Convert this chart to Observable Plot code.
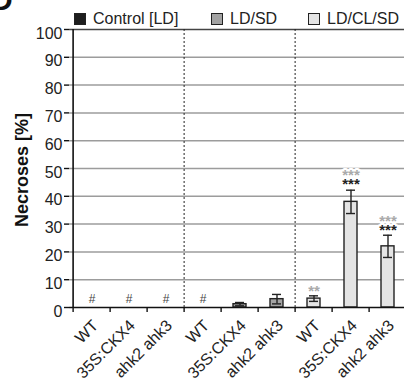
<!DOCTYPE html>
<html><head><meta charset="utf-8">
<script src="https://cdn.jsdelivr.net/npm/d3@7"></script>
<script src="https://cdn.jsdelivr.net/npm/@observablehq/plot@0.6"></script>
<style>
body{margin:0;overflow:hidden;background:#fff;font-family:"Liberation Sans",Arial,sans-serif;}
#wrap{position:relative;width:404px;height:385px;overflow:hidden;background:#fff;}
#wrap svg{position:absolute;left:0;top:0;}
.leg{position:absolute;top:12px;display:flex;align-items:center;gap:7px;font-size:16px;line-height:14px;color:#222;white-space:nowrap;}
.sw{width:10px;height:10px;border:1px solid #222;}
#ylab{position:absolute;left:22px;top:170px;transform:translate(-50%,-50%) rotate(-90deg);font-weight:bold;font-size:18px;white-space:nowrap;color:#111;}
#panel{position:absolute;left:-9px;top:-15px;font-size:30px;font-weight:bold;line-height:30px;color:#111;}
</style></head><body><div id="wrap"></div>
<script>
// ---- data ----
const groups = ["Control [LD]", "LD/SD", "LD/CL/SD"];
const genotypes = ["WT", "35S:CKX4", "ahk2 ahk3"];
const controlValues = [0, 0, 0];
const controlErrors = [0, 0, 0];
const ldsdValues = [0, 1.2, 3.0];
const ldsdErrors = [0, 0.6, 1.7];
const ldclsdValues = [3.2, 38, 22];
const ldclsdErrors = [1.0, 4.2, 4.0];
const hashControl = ["#", "#", "#"];
const hashLdsd = ["#", "", ""];
const hashLdclsd = ["", "", ""];
const starsVsControl = ["**", "***", "***"]; // grey
const starsVsLdsd = ["", "***", "***"];      // black
const yTicks = [0, 10, 20, 30, 40, 50, 60, 70, 80, 90, 100];
const gridValues = [10, 20, 30, 40, 50, 60, 70, 80, 90];

// ---- build table ----
const valueSets = [controlValues, ldsdValues, ldclsdValues];
const errorSets = [controlErrors, ldsdErrors, ldclsdErrors];
const hashSets = [hashControl, hashLdsd, hashLdclsd];
const fills = ["#1e1e1e", "#a3a3a3", "#e4e4e4"];
const rows = [];
groups.forEach((g, gi) => genotypes.forEach((t, ti) => {
  rows.push({key: gi + "|" + t, group: g, gi, genotype: t,
    value: valueSets[gi][ti], err: errorSets[gi][ti],
    lo: valueSets[gi][ti] - errorSets[gi][ti], hi: valueSets[gi][ti] + errorSets[gi][ti],
    hash: hashSets[gi][ti],
    grey: gi === 2 ? starsVsControl[ti] : "", black: gi === 2 ? starsVsLdsd[ti] : ""});
}));
const keys = rows.map(d => d.key);
const separatorKeys = [keys[3], keys[6]];
const W = 404, ML = 69, MR = -5;
const bw = (W - MR - ML) / keys.length;

const plot = Plot.plot({
  width: W, height: 385, marginLeft: ML, marginRight: MR, marginTop: 29, marginBottom: 78,
  style: {fontFamily: "Liberation Sans, Arial, sans-serif", overflow: "hidden", background: "transparent"},
  x: {type: "band", domain: keys, padding: 0, axis: null},
  y: {domain: [0, 100], axis: null},
  marks: [
    Plot.ruleY(gridValues, {stroke: "#9c9c9c", strokeWidth: 1.5}),
    Plot.ruleY([100], {stroke: "#444", strokeWidth: 1.5}),
    Plot.ruleX(separatorKeys, {x: d => d, dx: -bw / 2, stroke: "#222", strokeWidth: 1, strokeDasharray: "2,2"}),
    Plot.barY(rows.filter(d => d.value > 0), {x: "key", y: "value", fill: d => fills[d.gi],
      stroke: "#222", strokeWidth: 1.4, insetLeft: 12, insetRight: 12}),
    Plot.ruleX(rows.filter(d => d.err > 0), {x: "key", y1: "lo", y2: "hi", stroke: "#222", strokeWidth: 1.4}),
    Plot.tickY(rows.filter(d => d.err > 0), {x: "key", y: "hi", stroke: "#222", strokeWidth: 1.4, insetLeft: 14, insetRight: 14}),
    Plot.tickY(rows.filter(d => d.err > 0), {x: "key", y: "lo", stroke: "#222", strokeWidth: 1.4, insetLeft: 14, insetRight: 14}),
    Plot.text(rows.filter(d => d.hash), {x: "key", y: 0, text: "hash", dy: -8, fontSize: 12, fill: "#444"}),
    // stars: lower row (black if present, else grey)
    Plot.text(rows.filter(d => d.black), {x: "key", y: "hi", text: "black", dy: -5.5, fontSize: 15, fontWeight: "bold", fill: "#222", stroke: "white", strokeWidth: 4}),
    Plot.text(rows.filter(d => d.grey && !d.black), {x: "key", y: "hi", text: "grey", dy: -5, fontSize: 15, fontWeight: "bold", fill: "#aaa", stroke: "white", strokeWidth: 4}),
    Plot.text(rows.filter(d => d.grey && d.black), {x: "key", y: "hi", text: "grey", dy: -14.5, fontSize: 15, fontWeight: "bold", fill: "#aaa", stroke: "white", strokeWidth: 4}),
    Plot.ruleY([0], {stroke: "#111", strokeWidth: 1.6}),
    Plot.ruleX([keys[0]], {x: d => d, dx: -bw / 2, stroke: "#111", strokeWidth: 1.6}),
    // axes
    Plot.axisY({ticks: yTicks, tickSize: 5, tickFormat: () => "", label: null, stroke: "#111", strokeWidth: 1.4}),
    Plot.axisY({ticks: yTicks, tickSize: 0, tickPadding: 7, dy: 4, fontSize: 16, fill: "#222", label: null}),
    Plot.axisX({tickSize: 5, tickFormat: () => "", dx: -bw / 2, label: null, stroke: "#111", strokeWidth: 1.4}),
    Plot.text(rows, {x: "key", y: 0, text: "genotype", rotate: -45, textAnchor: "end", lineAnchor: "top", dx: -1, dy: 11, fontSize: 16, fill: "#222"})
  ]
});
const wrap = document.getElementById("wrap");
wrap.appendChild(plot);

const panel = document.createElement("div");
panel.id = "panel"; panel.textContent = "D";
wrap.appendChild(panel);

const ylab = document.createElement("div");
ylab.id = "ylab"; ylab.textContent = "Necroses [%]";
wrap.appendChild(ylab);

const legLeft = [74, 211, 308];
groups.forEach((g, gi) => {
  const it = document.createElement("div");
  it.className = "leg"; it.style.left = legLeft[gi] + "px";
  const sw = document.createElement("span");
  sw.className = "sw"; sw.style.background = fills[gi];
  const tx = document.createElement("span"); tx.textContent = g;
  it.appendChild(sw); it.appendChild(tx);
  wrap.appendChild(it);
});
</script></body></html>
